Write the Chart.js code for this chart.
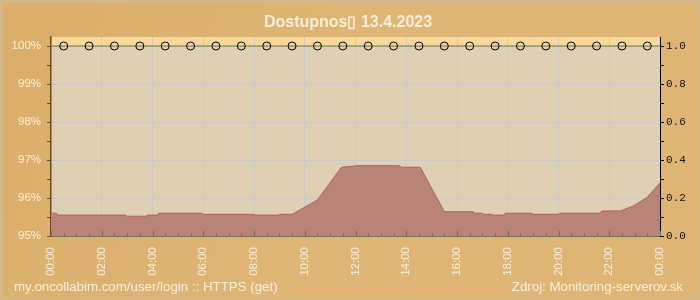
<!DOCTYPE html>
<html>
<head>
<meta charset="utf-8">
<script src="https://cdn.jsdelivr.net/npm/chart.js@4/dist/chart.umd.min.js"></script>
<style>
  html, body { margin: 0; padding: 0; background: #dcb06c; }
  #wrap { position: relative; width: 700px; height: 300px; }
  canvas { display: block; }
</style>
</head>
<body>
<div id="wrap"><canvas id="c" width="700" height="300"></canvas></div>
<script>
// ---- data ----
const titleText = "Dostupnos\u25AF 13.4.2023";
const footerLeft = "my.oncollabim.com/user/login :: HTTPS (get)";
const footerRight = "Zdroj: Monitoring-serverov.sk";

// response / area series (hours of day, percent)
const areaHours = [0, 0.22, 0.25, 2.95, 3.0, 3.75, 3.8, 4.2, 4.25, 5.95, 6.0, 8.0, 8.05, 8.95, 9.0, 9.5, 10.0, 10.5, 11.45, 11.95, 12.0, 13.75, 13.8, 14.55, 15.5, 16.64, 16.7, 17.0, 17.05, 17.35, 17.4, 17.85, 17.9, 18.95, 19.0, 20.0, 20.05, 21.65, 21.7, 22.45, 22.95, 23.5, 24.0];
const areaValues = [95.60, 95.60, 95.55, 95.55, 95.52, 95.52, 95.55, 95.55, 95.60, 95.60, 95.57, 95.57, 95.55, 95.55, 95.57, 95.57, 95.76, 95.95, 96.81, 96.84, 96.85, 96.85, 96.81, 96.81, 95.64, 95.64, 95.60, 95.60, 95.57, 95.57, 95.55, 95.55, 95.60, 95.60, 95.57, 95.57, 95.60, 95.60, 95.66, 95.66, 95.79, 96.02, 96.40];

// availability series (hours, fraction up)
const availHours = [0, 0.5, 1.5, 2.5, 3.5, 4.5, 5.5, 6.5, 7.5, 8.5, 9.5, 10.5, 11.5, 12.5, 13.5, 14.5, 15.5, 16.5, 17.5, 18.5, 19.5, 20.5, 21.5, 22.5, 23.5, 24];
const availValues = [1, 1, 1, 1, 1, 1, 1, 1, 1, 1, 1, 1, 1, 1, 1, 1, 1, 1, 1, 1, 1, 1, 1, 1, 1, 1];

// axes
const xMin = 0, xMax = 24;
const yMin = 95, yMax = 100.237;
const y1Min = 0, y1Max = 1.0474;

// ---- styles ----
const cream = '#faf0dc';
const gridCol = '#cdc9c9';

function pad(n) { return (n < 10 ? '0' : '') + n; }

const bgPlugin = {
  id: 'bgPlugin',
  beforeDraw(chart) {
    const ctx = chart.ctx, W = chart.width, H = chart.height, a = chart.chartArea;
    ctx.save();
    const g = ctx.createLinearGradient(0, 0, W, H);
    g.addColorStop(0, '#dbae69');
    g.addColorStop(0.5, '#dfb676');
    g.addColorStop(1, '#deb572');
    ctx.fillStyle = g;
    ctx.fillRect(0, 0, W, H);
    ctx.strokeStyle = '#d5b887';
    ctx.lineWidth = 3;
    ctx.strokeRect(1.5, 1.5, W - 3, H - 3);
    // plot background
    ctx.fillStyle = '#dfcfb3';
    ctx.fillRect(a.left, a.top, a.right - a.left, a.bottom - a.top);
    // band above 100%
    const y100 = chart.scales.y.getPixelForValue(100);
    const bg = ctx.createLinearGradient(0, a.top, 0, y100);
    bg.addColorStop(0, '#fdd99c');
    bg.addColorStop(1, '#fcd698');
    ctx.fillStyle = bg;
    ctx.fillRect(a.left, a.top, a.right - a.left, y100 - a.top);
    ctx.restore();
  },
  afterDatasetsDraw(chart) {
    // inward tick marks on the x axis
    const ctx = chart.ctx, a = chart.chartArea, xs = chart.scales.x;
    ctx.save();
    ctx.strokeStyle = '#6d7552';
    ctx.lineWidth = 1;
    xs.ticks.forEach(t => {
      const px = Math.round(xs.getPixelForValue(t.value)) + 0.5;
      const major = Math.abs(t.value % 2) < 1e-6;
      ctx.beginPath();
      ctx.moveTo(px, a.bottom);
      ctx.lineTo(px, a.bottom - (major ? 5 : 3));
      ctx.stroke();
    });
    ctx.beginPath();
    ctx.moveTo(a.left, a.bottom + 0.5);
    ctx.lineTo(a.right, a.bottom + 0.5);
    ctx.stroke();
    ctx.restore();
  },
  afterDraw(chart) {
    const ctx = chart.ctx;
    ctx.save();
    ctx.fillStyle = '#fbefd6';
    ctx.font = 'bold 16px "Liberation Sans", Arial, sans-serif';
    ctx.textAlign = 'center';
    ctx.textBaseline = 'alphabetic';
    ctx.fillText(titleText, 348, 27);
    ctx.fillStyle = cream;
    ctx.font = '13.3px "Liberation Sans", Arial, sans-serif';
    ctx.textAlign = 'left';
    ctx.fillText(footerLeft, 14, 291);
    ctx.textAlign = 'right';
    ctx.fillText(footerRight, 683, 291);
    ctx.restore();
  }
};

new Chart(document.getElementById('c'), {
  type: 'line',
  data: {
    datasets: [
      {
        label: 'avail',
        data: availHours.map((h, i) => ({ x: h, y: availValues[i] })),
        yAxisID: 'y1',
        borderColor: '#6b7a32',
        borderWidth: 1,
        backgroundColor: 'rgba(0,0,0,0)',
        pointRadius: ctx => (ctx.dataIndex === 0 || ctx.dataIndex === availHours.length - 1) ? 0 : 4,
        pointBorderColor: '#000',
        pointBorderWidth: 1,
        pointBackgroundColor: 'rgba(0,0,0,0)',
        fill: false,
        order: 0
      },
      {
        label: 'area',
        data: areaHours.map((h, i) => ({ x: h, y: areaValues[i] })),
        yAxisID: 'y',
        borderColor: '#b0615a',
        borderWidth: 1,
        backgroundColor: '#b98377',
        pointRadius: 0,
        fill: 'start',
        tension: 0,
        order: 1
      }
    ]
  },
  options: {
    responsive: false,
    animation: false,
    events: [],
    layout: { padding: { top: 37, left: 0, right: 0, bottom: 0 } },
    plugins: { legend: { display: false }, title: { display: false }, tooltip: { enabled: false } },
    scales: {
      x: {
        type: 'linear',
        min: xMin, max: xMax,
        bounds: 'data',
        afterFit(s) { s.height = 64; },
        ticks: {
          stepSize: 0.5,
          autoSkip: false,
          includeBounds: false,
          maxRotation: 90, minRotation: 90,
          padding: 11,
          color: cream,
          font: { family: '"Liberation Sans", Arial, sans-serif', size: 11.5 },
          callback: v => (Math.abs(v % 2) < 1e-6) ? pad(v % 24 === 0 && v > 0 ? 0 : v) + ':00' : ''
        },
        grid: {
          drawTicks: false,
          color: ctx => (ctx.tick && Math.abs(ctx.tick.value % 2) < 1e-6) ? gridCol : 'rgba(0,0,0,0)',
          lineWidth: 1
        },
        border: { display: false }
      },
      y: {
        type: 'linear',
        position: 'left',
        min: yMin, max: yMax,
        bounds: 'data',
        afterFit(s) { s.width = 51; },
        ticks: {
          stepSize: 0.5,
          includeBounds: false,
          autoSkip: false,
          padding: 6,
          color: cream,
          font: { family: '"Liberation Sans", Arial, sans-serif', size: 11.5 },
          callback: v => (Math.abs(v % 1) < 1e-6) ? Math.round(v) + '%' : ''
        },
        grid: {
          tickLength: 4,
          tickColor: '#6a4a1f',
          color: ctx => (ctx.tick && Math.abs(ctx.tick.value % 1) < 1e-6) ? gridCol : 'rgba(0,0,0,0)'
        },
        border: { display: true, color: '#6a4a1f', width: 1.5 }
      },
      y1: {
        type: 'linear',
        position: 'right',
        min: y1Min, max: y1Max,
        bounds: 'data',
        afterFit(s) { s.width = 40; },
        ticks: {
          stepSize: 0.1,
          includeBounds: false,
          autoSkip: false,
          padding: 2,
          color: '#111',
          font: { family: '"Liberation Mono", "DejaVu Sans Mono", monospace', size: 11 },
          callback: v => (Math.round(v * 10) % 2 === 0) ? v.toFixed(1) : ''
        },
        grid: {
          drawOnChartArea: false,
          tickLength: 4,
          tickColor: '#000'
        },
        border: { display: true, color: '#000', width: 1 }
      }
    }
  },
  plugins: [bgPlugin]
});
</script>
</body>
</html>
